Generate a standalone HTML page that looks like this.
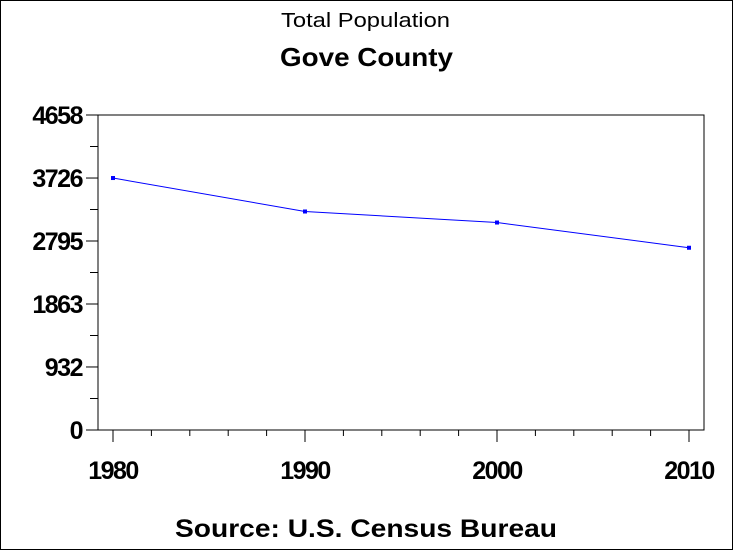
<!DOCTYPE html>
<html><head><meta charset="utf-8"><style>
html,body{margin:0;padding:0;background:#fff}
svg{display:block}
text{font-family:"Liberation Sans",Arial,sans-serif;fill:#000}
</style></head><body>
<svg width="733" height="550">
<rect x="0.5" y="0.5" width="732" height="549" fill="#fff" stroke="#000"/>
<text x="281" y="27" font-size="20" textLength="169" lengthAdjust="spacingAndGlyphs">Total Population</text>
<text x="280" y="66" font-size="26" font-weight="bold" textLength="173" lengthAdjust="spacingAndGlyphs">Gove County</text>
<text x="175" y="537" font-size="25" font-weight="bold" textLength="382" lengthAdjust="spacingAndGlyphs">Source: U.S. Census Bureau</text>
<g id="plot"></g>
</svg>
<script>
const years=[1980,1990,2000,2010];
const population=[3726,3231,3068,2695];
const yTicks=[0,932,1863,2795,3726,4658];
const yMax=4658;
const L=98,R=704,T=115,B=430;
const xs=v=>113+(v-1980)/30*(689-113);
const ys=v=>B-(v/yMax)*(B-T);
const NS='http://www.w3.org/2000/svg';
const g=document.getElementById('plot');
function mk(t,a){const e=document.createElementNS(NS,t);for(const k in a)e.setAttribute(k,a[k]);g.appendChild(e);return e;}
const frame=mk('rect',{x:L,y:T,width:R-L,height:B-T,fill:'none',stroke:'#000','stroke-width':1});


const xl=mk('line',{x1:86,y1:B,x2:R,y2:B,stroke:'#000'});


yTicks.forEach((v,i)=>{
 const y=ys(v);
 const t=mk('line',{x1:86,y1:y,x2:L,y2:y,stroke:'#000'});
 
 
 const lb=mk('text',{x:82,y:y+9,'font-size':25,'font-weight':'bold','text-anchor':'end','letter-spacing':-1.5});
 lb.textContent=v;
 
 
 if(i<yTicks.length-1){
  const my=ys((v+yTicks[i+1])/2);
  const m=mk('line',{x1:90,y1:my,x2:L,y2:my,stroke:'#000'});
  
  
 }
});
for(let yr=1980;yr<=2010;yr+=2){
 const x=xs(yr);const major=(yr%10===0);
 const t=mk('line',{x1:x,y1:B,x2:x,y2:B+(major?12:6),stroke:'#000'});
 
 
 if(major){
  const lb=mk('text',{x:x,y:479,'font-size':25,'font-weight':'bold','text-anchor':'middle','letter-spacing':-1.5});
  lb.textContent=yr;
  
  
 }
}
const pts=years.map((y,i)=>xs(y)+','+ys(population[i])).join(' ');
const ln=mk('polyline',{points:pts,fill:'none',stroke:'#0000ff','stroke-width':1});


years.forEach((y,i)=>{
 const p=mk('rect',{x:xs(y)-2,y:ys(population[i])-2,width:4,height:4,fill:'#0000ff'});
 
 
});
</script>
</body></html>
